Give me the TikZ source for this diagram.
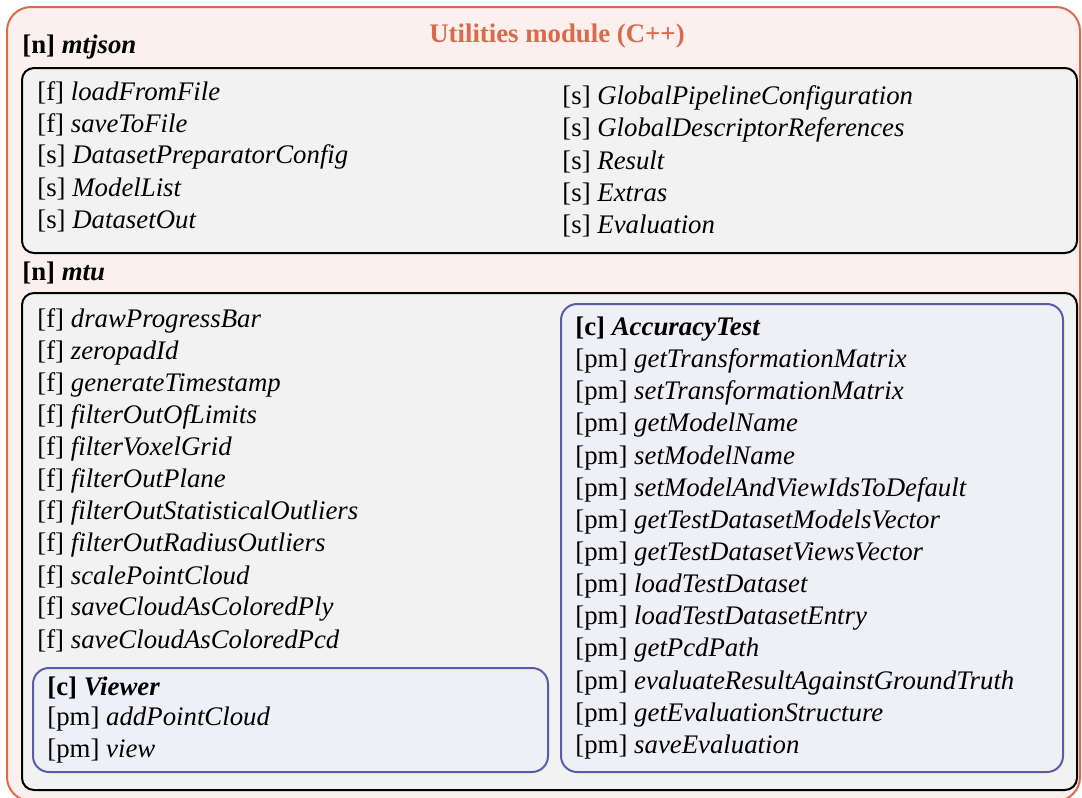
\documentclass[tikz,border=0pt]{standalone}
\usepackage{fontspec}
\setmainfont{Liberation Serif}

\definecolor{modorange}{HTML}{D96A4A}
\definecolor{modfill}{HTML}{FBF0EE}
\definecolor{nsfill}{HTML}{F2F2F2}
\definecolor{clsblue}{HTML}{5A5DA6}
\definecolor{clsfill}{HTML}{EFF0F6}

\newcommand{\member}[2]{[#1] \textit{#2}}
\newcommand{\header}[2]{\textbf{[#1] \textit{#2}}}

\tikzset{
  module/.style={draw=modorange,fill=modfill,line width=1pt,rounded corners=12pt},
  nsbox/.style={draw=black,fill=nsfill,line width=1pt,rounded corners=6pt},
  clsbox/.style={draw=clsblue,fill=clsfill,line width=1pt,rounded corners=8pt},
  item/.style={anchor=west,inner sep=0pt,font=\fontsize{13.4}{16}\selectfont},
}

\begin{document}
\begin{tikzpicture}[x=0.5pt,y=-0.5pt]
  \useasboundingbox (0,0) rectangle (1082,798);
  % module frame
  \draw[module] (7,7) rectangle (1080,801);
  \node[item,anchor=center,text=modorange,font=\fontsize{13.4}{16}\selectfont\bfseries] (title) at (557,36) {Utilities module (C++)};

  % namespace mtjson
  \node[item] (ns1) at (22,47) {\header{n}{mtjson}};
  \draw[nsbox] (22,68) rectangle (1077,253);
  \foreach \k/\name [count=\i from 0] in {f/loadFromFile,f/saveToFile,s/DatasetPreparatorConfig,s/ModelList,s/DatasetOut}
    \node[item] (jl\i) at (37,93+32*\i) {\member{\k}{\name}};
  \foreach \k/\name [count=\i from 0] in {s/GlobalPipelineConfiguration,s/GlobalDescriptorReferences,s/Result,s/Extras,s/Evaluation}
    \node[item] (jr\i) at (562,98+32*\i) {\member{\k}{\name}};

  % namespace mtu
  \node[item] (ns2) at (22,273) {\header{n}{mtu}};
  \draw[nsbox] (22,293) rectangle (1077,790);
  \foreach \name [count=\i from 0] in {drawProgressBar,zeropadId,generateTimestamp,filterOutOfLimits,filterVoxelGrid,filterOutPlane,filterOutStatisticalOutliers,filterOutRadiusOutliers,scalePointCloud,saveCloudAsColoredPly,saveCloudAsColoredPcd}
    \node[item] (ul\i) at (37,321+32*\i) {\member{f}{\name}};

  % class Viewer
  \draw[clsbox] (33,668) rectangle (548,772);
  \node[item] (viewer) at (47,688) {\header{c}{Viewer}};
  \node[item] (vw1) at (47,719.5) {\member{pm}{addPointCloud}};
  \node[item] (vw2) at (47,751) {\member{pm}{view}};

  % class AccuracyTest
  \draw[clsbox] (561,304) rectangle (1063,772);
  \node[item] (acc) at (575,329) {\header{c}{AccuracyTest}};
  \foreach \name [count=\i from 1] in {getTransformationMatrix,setTransformationMatrix,getModelName,setModelName,setModelAndViewIdsToDefault,getTestDatasetModelsVector,getTestDatasetViewsVector,loadTestDataset,loadTestDatasetEntry,getPcdPath,evaluateResultAgainstGroundTruth,getEvaluationStructure,saveEvaluation}
    \node[item] (ac\i) at (575,329+32.15*\i) {\member{pm}{\name}};
\end{tikzpicture}
\end{document}
